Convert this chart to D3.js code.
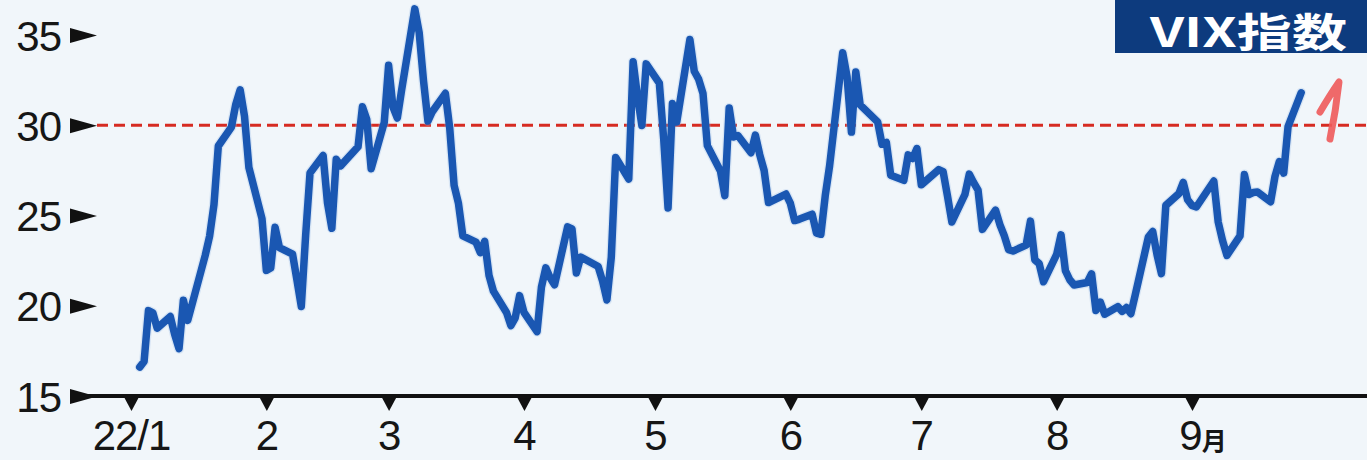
<!DOCTYPE html>
<html><head><meta charset="utf-8">
<script src="https://cdn.jsdelivr.net/npm/d3@7"></script>
<style>html,body{margin:0;padding:0;background:#f1f6fa;overflow:hidden}</style>
</head><body>
<svg id="c" width="1367" height="460"></svg>
<script>
// ---- data ----
const dates = [
"2022-01-03","2022-01-04","2022-01-05","2022-01-06","2022-01-07","2022-01-10","2022-01-11","2022-01-12","2022-01-13","2022-01-14",
"2022-01-18","2022-01-19","2022-01-20","2022-01-21","2022-01-24","2022-01-25","2022-01-26","2022-01-27","2022-01-28","2022-01-31",
"2022-02-01","2022-02-02","2022-02-03","2022-02-04","2022-02-07","2022-02-08","2022-02-09","2022-02-10","2022-02-11","2022-02-14",
"2022-02-15","2022-02-16","2022-02-17","2022-02-18","2022-02-22","2022-02-23","2022-02-24","2022-02-25","2022-02-28",
"2022-03-01","2022-03-02","2022-03-03","2022-03-04","2022-03-07","2022-03-08","2022-03-09","2022-03-10","2022-03-11","2022-03-14",
"2022-03-15","2022-03-16","2022-03-17","2022-03-18","2022-03-21","2022-03-22","2022-03-23","2022-03-24","2022-03-25","2022-03-28",
"2022-03-29","2022-03-30","2022-03-31",
"2022-04-01","2022-04-04","2022-04-05","2022-04-06","2022-04-07","2022-04-08","2022-04-11","2022-04-12","2022-04-13","2022-04-14",
"2022-04-18","2022-04-19","2022-04-20","2022-04-21","2022-04-22","2022-04-25","2022-04-26","2022-04-27","2022-04-28","2022-04-29",
"2022-05-02","2022-05-03","2022-05-04","2022-05-05","2022-05-06","2022-05-09","2022-05-10","2022-05-11","2022-05-12","2022-05-13",
"2022-05-16","2022-05-17","2022-05-18","2022-05-19","2022-05-20","2022-05-23","2022-05-24","2022-05-25","2022-05-26","2022-05-27",
"2022-05-31",
"2022-06-01","2022-06-02","2022-06-03","2022-06-06","2022-06-07","2022-06-08","2022-06-09","2022-06-10","2022-06-13","2022-06-14",
"2022-06-15","2022-06-16","2022-06-17","2022-06-21","2022-06-22","2022-06-23","2022-06-24","2022-06-27","2022-06-28","2022-06-29",
"2022-06-30",
"2022-07-01","2022-07-05","2022-07-06","2022-07-07","2022-07-08","2022-07-11","2022-07-12","2022-07-13","2022-07-14","2022-07-15",
"2022-07-18","2022-07-19","2022-07-20","2022-07-21","2022-07-22","2022-07-25","2022-07-26","2022-07-27","2022-07-28","2022-07-29",
"2022-08-01","2022-08-02","2022-08-03","2022-08-04","2022-08-05","2022-08-08","2022-08-09","2022-08-10","2022-08-11","2022-08-12",
"2022-08-15","2022-08-16","2022-08-17","2022-08-18","2022-08-19","2022-08-22","2022-08-23","2022-08-24","2022-08-25","2022-08-26",
"2022-08-29","2022-08-30","2022-08-31",
"2022-09-01","2022-09-02","2022-09-06","2022-09-07","2022-09-08","2022-09-09","2022-09-12","2022-09-13","2022-09-14","2022-09-15",
"2022-09-16","2022-09-19","2022-09-20","2022-09-21","2022-09-22","2022-09-23","2022-09-26"
];
const vix = [
16.60,16.91,19.73,19.61,18.76,19.40,18.41,17.62,20.31,19.19,
22.79,23.85,25.59,28.85,29.90,31.16,31.96,30.49,27.66,24.83,
21.96,22.09,24.35,23.22,22.86,21.44,19.96,23.91,27.36,28.33,
25.70,24.29,28.11,27.75,28.81,31.02,30.32,27.59,30.15,
33.32,31.00,30.40,31.98,36.45,35.13,32.45,30.23,30.75,31.77,
29.83,26.67,25.67,23.87,23.53,22.94,23.57,21.67,20.81,19.63,
18.90,19.33,20.56,
19.63,18.57,21.03,22.10,21.55,21.16,24.37,24.26,21.82,22.70,
22.17,21.37,20.32,22.68,28.21,27.02,33.52,31.60,29.99,33.40,
32.34,29.25,25.42,31.20,30.19,34.75,32.99,32.56,31.77,28.87,
27.47,26.10,30.96,29.35,29.43,28.48,29.45,28.37,27.50,25.72,
26.19,
25.69,24.72,24.79,25.07,24.02,23.96,26.09,27.75,34.02,32.69,
29.62,32.95,31.13,30.19,28.95,29.05,27.23,26.95,28.36,28.16,
28.71,
26.70,27.54,27.43,26.08,24.64,26.17,27.29,26.82,26.40,24.23,
25.30,24.50,23.88,23.11,23.03,23.36,24.69,22.54,22.33,21.33,
22.84,23.93,21.95,21.44,21.15,21.29,21.77,19.74,20.20,19.53,
19.95,19.69,19.90,19.56,20.60,23.80,24.11,22.82,21.78,25.56,
26.21,26.83,25.87,
25.56,25.47,26.91,24.64,23.61,22.79,23.87,27.27,26.16,26.27,
26.30,25.76,27.16,27.99,27.35,29.92,31.80
];
const yTicks = [15, 20, 25, 30, 35];
const xTickDates = ["2022-01-01","2022-02-01","2022-03-01","2022-04-01","2022-05-01","2022-06-01","2022-07-01","2022-08-01","2022-09-01"];
const xTickLabels = ["22/1","2","3","4","5","6","7","8","9月"];
const refLevel = 30;
const titleText = "VIX指数";

// ---- drawing ----
const W = 1367, H = 460;
const parse = d3.utcParse("%Y-%m-%d");
const svg = d3.select("#c");
const FONT = "'Liberation Sans','Noto Sans CJK JP',sans-serif";
const CJK = "'Noto Sans CJK JP',sans-serif";

const x = d3.scaleUtc().domain([parse("2022-01-01"), parse("2022-09-01")]).range([131, 1192]);
const y = d3.scaleLinear().domain([15, 35]).range([396, 35]);

// background
svg.append("rect").attr("width", W).attr("height", H).attr("fill", "#f1f6fa");

// reference dashed line at 30
svg.append("line")
  .attr("x1", 97).attr("x2", W)
  .attr("y1", y(refLevel)).attr("y2", y(refLevel))
  .attr("stroke", "#d62b22").attr("stroke-width", 3)
  .attr("stroke-dasharray", "11 6");

// y axis
const yAxis = svg.append("g").attr("transform", "translate(97,0)")
  .call(d3.axisLeft(y).tickValues(yTicks).tickSize(0).tickPadding(36));
yAxis.select(".domain").remove();
yAxis.selectAll(".tick text")
  .attr("font-family", FONT).attr("font-size", 42)
  .attr("fill", "#161616").attr("dy", "0.36em").attr("letter-spacing", -1);
yAxis.selectAll(".tick").append("path")
  .attr("d", "M-27,-7.5L0,0L-27,7.5Z").attr("fill", "#111");

// x axis baseline
svg.append("line").attr("x1", 75).attr("x2", W)
  .attr("y1", y(15)).attr("y2", y(15))
  .attr("stroke", "#111").attr("stroke-width", 4);

const xAxis = svg.append("g").attr("transform", `translate(0,${y(15)})`)
  .call(d3.axisBottom(x).tickValues(xTickDates.map(parse))
    .tickFormat((d, i) => xTickLabels[i]).tickSize(0));
xAxis.select(".domain").remove();
xAxis.selectAll(".tick").append("path")
  .attr("d", "M-7.5,1L7.5,1L0,15Z").attr("fill", "#111");
xAxis.selectAll(".tick text")
  .attr("font-family", FONT).attr("font-size", 42)
  .attr("fill", "#161616").attr("y", 54).attr("dy", 0).attr("letter-spacing", -1)
  .each(function(d, i) {
    const lab = xTickLabels[i];
    if (lab.endsWith("月")) {
      const t = d3.select(this);
      t.text(null);
      const num = t.append("tspan").text(lab.slice(0, -1));
      t.append("tspan").attr("font-family", CJK).attr("font-size", 25).attr("font-weight", 700).text("月");
      const w = num.node().getComputedTextLength();
      t.attr("text-anchor", "start").attr("x", -w / 2 - 2);
    }
  });

// the VIX line
const pts = dates.map((d, i) => ({date: parse(d), v: vix[i]}));
const line = d3.line().x(d => x(d.date)).y(d => y(d.v));
svg.append("path").datum(pts)
  .attr("d", line).attr("fill", "none")
  .attr("stroke", "#9dbde8").attr("stroke-width", 10).attr("opacity", 0.3)
  .attr("stroke-linejoin", "round").attr("stroke-linecap", "round");
svg.append("path").datum(pts)
  .attr("d", line).attr("fill", "none")
  .attr("stroke", "#1a57b2").attr("stroke-width", 7.5)
  .attr("stroke-linejoin", "round").attr("stroke-linecap", "round");

// title box
svg.append("rect").attr("x", 1115).attr("y", -2).attr("width", 260).attr("height", 55)
  .attr("fill", "#0d3b7e");
svg.append("text").attr("x", 1150).attr("y", 46.5)
  .attr("font-family", CJK).attr("font-size", 40).attr("font-weight", 700)
  .attr("fill", "#ffffff").attr("textLength", 197).attr("lengthAdjust", "spacingAndGlyphs")
  .text(titleText);

// hand-drawn red up arrow annotation
svg.append("path")
  .attr("d", "M1320,112 Q1330,95 1339,82 Q1336,110 1330,139")
  .attr("fill", "none").attr("stroke", "#ee5a5a").attr("stroke-width", 7)
  .attr("stroke-linecap", "round").attr("stroke-linejoin", "round").attr("opacity", 0.9);
</script>
</body></html>
